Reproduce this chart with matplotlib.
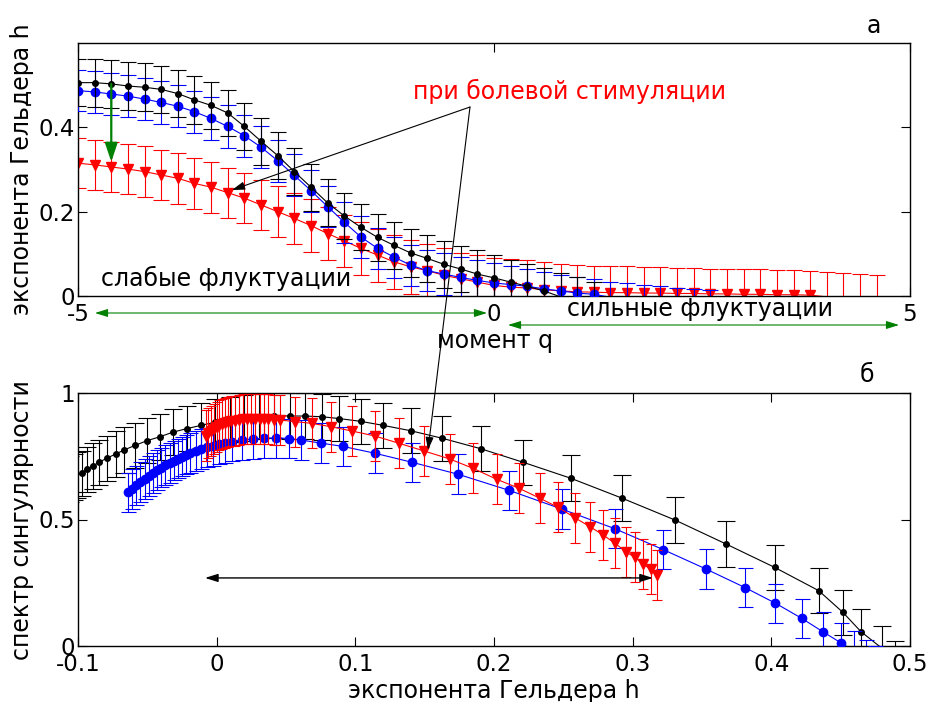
import numpy as np
import matplotlib
matplotlib.use("Agg")
import matplotlib.pyplot as plt
from matplotlib.patches import FancyArrowPatch

plt.rcParams["font.family"] = ["DejaVu Sans"]

W, H = 929, 702

# --- panel a: generalized Hurst exponent h(q) vs moment q ---
q = np.round(np.linspace(-5, 5, 51), 2)
q_black = q[:32]
q_blue = q[:39]
q_red = q[:49]

h_black = [0.506, 0.506, 0.503, 0.498, 0.495, 0.490, 0.480, 0.465, 0.452, 0.434,
           0.402, 0.367, 0.333, 0.295, 0.258, 0.221, 0.190, 0.163, 0.139, 0.120,
           0.102, 0.089, 0.075, 0.064, 0.052, 0.043, 0.033, 0.023, 0.012, -0.002,
           -0.012, -0.022]
err_black = [0.056, 0.057, 0.057, 0.056, 0.057, 0.056, 0.056, 0.056, 0.055, 0.055,
             0.056, 0.056, 0.055, 0.055, 0.056, 0.056, 0.055, 0.055, 0.056, 0.056,
             0.056, 0.055, 0.055, 0.055, 0.057, 0.054, 0.053, 0.054, 0.055, 0.056,
             0.056, 0.056]

h_blue = [0.487, 0.484, 0.479, 0.474, 0.467, 0.459, 0.450, 0.437, 0.421, 0.402,
          0.380, 0.353, 0.321, 0.286, 0.250, 0.212, 0.175, 0.140, 0.113, 0.092,
          0.073, 0.060, 0.052, 0.044, 0.037, 0.031, 0.027, 0.023, 0.017, 0.012,
          0.007, 0.004, -0.003, -0.006, -0.009, -0.012, -0.015, -0.018, -0.021]
err_blue = [0.049, 0.050, 0.050, 0.050, 0.050, 0.050, 0.050, 0.050, 0.050, 0.050,
            0.050, 0.050, 0.050, 0.050, 0.050, 0.049, 0.049, 0.049, 0.049, 0.049,
            0.049, 0.049, 0.049, 0.049, 0.048, 0.047, 0.045, 0.042, 0.040, 0.038,
            0.037, 0.037, 0.036, 0.036, 0.036, 0.035, 0.035, 0.035, 0.035]

h_red = [0.315, 0.311, 0.306, 0.301, 0.295, 0.287, 0.279, 0.267, 0.258, 0.245,
         0.232, 0.216, 0.200, 0.184, 0.167, 0.148, 0.131, 0.113, 0.097, 0.081,
         0.069, 0.060, 0.049, 0.041, 0.033, 0.025, 0.021, 0.019, 0.015, 0.012,
         0.010, 0.009, 0.008, 0.008, 0.007, 0.007, 0.006, 0.006, 0.005, 0.005,
         0.004, 0.004, 0.003, 0.003, 0.002, -0.002, -0.004, -0.006, -0.008]
err_red = [0.060, 0.060, 0.060, 0.060, 0.060, 0.060, 0.060, 0.060, 0.060, 0.059,
           0.060, 0.060, 0.061, 0.061, 0.062, 0.062, 0.062, 0.063, 0.063, 0.064,
           0.064, 0.064, 0.064, 0.060, 0.064, 0.066, 0.066, 0.066, 0.065, 0.064,
           0.063, 0.063, 0.062, 0.062, 0.062, 0.061, 0.061, 0.060, 0.060, 0.060,
           0.059, 0.059, 0.059, 0.058, 0.058, 0.058, 0.058, 0.058, 0.057]

# --- panel б: singularity spectrum f vs Hoelder exponent ---
sb_h = [-0.106, -0.103, -0.1005, -0.0974, -0.0938, -0.0894, -0.0849, -0.0793, -0.0728, -0.0666,
        -0.0589, -0.0500, -0.0409, -0.0317, -0.0217, -0.0113, -0.0010, 0.0095, 0.0200, 0.0305,
        0.0413, 0.0528, 0.0639, 0.0762, 0.0884, 0.1038, 0.1201, 0.1398, 0.1627, 0.1903,
        0.2211, 0.2554, 0.2925, 0.3305, 0.3674, 0.4023, 0.4341, 0.4516, 0.4646, 0.4800,
        0.4895]
sb_f = [0.660, 0.668, 0.675, 0.682, 0.698, 0.711, 0.726, 0.742, 0.759, 0.775,
        0.793, 0.812, 0.827, 0.845, 0.859, 0.872, 0.885, 0.895, 0.902, 0.907,
        0.911, 0.909, 0.909, 0.906, 0.899, 0.888, 0.872, 0.851, 0.821, 0.780,
        0.726, 0.663, 0.584, 0.498, 0.403, 0.311, 0.219, 0.133, 0.057, -0.010,
        -0.069]
sb_err = 0.090

su_h = [-0.064, -0.061, -0.058, -0.055, -0.052, -0.049, -0.046, -0.043, -0.040, -0.037,
        -0.034, -0.031, -0.028, -0.025, -0.022, -0.019, -0.015, -0.011, -0.007, -0.003,
        0.002, 0.006, 0.011, 0.018, 0.026, 0.034, 0.043, 0.052, 0.061, 0.075,
        0.091, 0.114, 0.141, 0.174, 0.211, 0.249, 0.287, 0.322, 0.353, 0.381,
        0.403, 0.422, 0.437, 0.450, 0.4595, 0.468, 0.4746]
su_f = [0.607, 0.621, 0.635, 0.648, 0.660, 0.672, 0.684, 0.695, 0.705, 0.715,
        0.724, 0.733, 0.741, 0.749, 0.756, 0.763, 0.771, 0.778, 0.785, 0.791,
        0.798, 0.802, 0.808, 0.814, 0.818, 0.821, 0.823, 0.820, 0.814, 0.802,
        0.789, 0.762, 0.726, 0.679, 0.615, 0.541, 0.464, 0.381, 0.304, 0.231,
        0.169, 0.109, 0.057, 0.013, -0.018, -0.053, -0.078]
su_err = 0.078

sr_h = [-0.008, -0.006, -0.004, -0.002, 0.000, 0.002, 0.004, 0.006, 0.008, 0.010,
        0.013, 0.016, 0.019, 0.022, 0.025, 0.028, 0.031, 0.034, 0.037, 0.041,
        0.0456, 0.0565, 0.0685, 0.0822, 0.0973, 0.1141, 0.1317, 0.1495, 0.1682, 0.185,
        0.2019, 0.2182, 0.2331, 0.2463, 0.2583, 0.2691, 0.2787, 0.2872, 0.2951, 0.3016,
        0.3076, 0.3129, 0.3172]
sr_f = [0.832, 0.842, 0.851, 0.859, 0.866, 0.872, 0.877, 0.881, 0.885, 0.888,
        0.891, 0.894, 0.896, 0.897, 0.898, 0.899, 0.899, 0.898, 0.897, 0.895,
        0.893, 0.887, 0.880, 0.867, 0.850, 0.830, 0.801, 0.771, 0.739, 0.702,
        0.659, 0.623, 0.584, 0.548, 0.507, 0.472, 0.439, 0.406, 0.373, 0.350,
        0.324, 0.303, 0.281]
sr_err = 0.099


def fpx(x, y):
    return (x / W, 1 - y / H)


def series(ax, x, y, err, color, marker, ms, cap, z, xlim, ylim):
    ax.errorbar(x, y, yerr=err, fmt="none", ecolor=color, elinewidth=0.8,
                capsize=cap, capthick=0.8, zorder=z)
    # markers only for points inside the axes box
    shown = [i for i, (a, b) in enumerate(zip(x, y))
             if xlim[0] <= a <= xlim[1] and ylim[0] <= b <= ylim[1]]
    ax.plot(x, y, color=color, lw=0.8, marker=marker, ms=ms, mfc=color,
            mec=color, markevery=shown, zorder=z + 0.5)


def style(ax, xt, xl, yt, yl):
    ax.set_xticks(xt)
    ax.set_xticklabels(xl)
    ax.set_yticks(yt)
    ax.set_yticklabels(yl)
    ax.tick_params(direction="in", length=6.5, width=0.8, top=True, right=True,
                   labelsize=16.5)
    ax.tick_params(axis="x", pad=5)
    ax.tick_params(axis="y", pad=2)
    for s in ax.spines.values():
        s.set_linewidth(1.0)


fig = plt.figure(figsize=(W / 100, H / 100), dpi=100)
ax1 = fig.add_axes([78 / W, 1 - 296 / H, 832 / W, 253 / H])
ax2 = fig.add_axes([78 / W, 1 - 646 / H, 832 / W, 253 / H])

lim1 = ((-5, 5), (0, 0.6))
series(ax1, q_red, h_red, err_red, "#ff0000", "v", 7.5, 6, 2, *lim1)
series(ax1, q_blue, h_blue, err_blue, "#0000ff", "o", 6, 6, 3, *lim1)
series(ax1, q_black, h_black, err_black, "k", "o", 4, 6, 4, *lim1)
ax1.set_xlim(*lim1[0])
ax1.set_ylim(*lim1[1])
style(ax1, [-5, 0, 5], ["-5", "0", "5"], [0, 0.2, 0.4], ["0", "0.2", "0.4"])

lim2 = ((-0.1, 0.5), (0, 1))
series(ax2, sb_h, sb_f, sb_err, "k", "o", 4, 6.5, 2, *lim2)
series(ax2, su_h, su_f, su_err, "#0000ff", "o", 6, 5.4, 3, *lim2)
series(ax2, sr_h, sr_f, sr_err, "#ff0000", "v", 7.5, 3.6, 4, *lim2)
ax2.set_xlim(*lim2[0])
ax2.set_ylim(*lim2[1])
style(ax2, [-0.1, 0, 0.1, 0.2, 0.3, 0.4, 0.5],
      ["-0.1", "0", "0.1", "0.2", "0.3", "0.4", "0.5"],
      [0, 0.5, 1], ["0", "0.5", "1"])

fs = 17
fig.text(*fpx(22, 169), "экспонента Гельдера h", rotation=90, fontsize=fs,
         ha="center", va="center")
fig.text(*fpx(22, 520), "спектр сингулярности", rotation=90, fontsize=fs,
         ha="center", va="center")
fig.text(*fpx(495, 348), "момент q", fontsize=fs, ha="center", va="baseline")
fig.text(*fpx(494, 698), "экспонента Гельдера h", fontsize=fs, ha="center",
         va="baseline")
fig.text(*fpx(874, 33), "а", fontsize=fs, ha="center", va="baseline")
fig.text(*fpx(867, 382), "б", fontsize=fs, ha="center", va="baseline")
fig.text(*fpx(570, 99), "при болевой стимуляции", color="#ff0000", fontsize=fs,
         ha="center", va="baseline")
fig.text(*fpx(226, 286), "слабые флуктуации", fontsize=fs, ha="center",
         va="baseline")
fig.text(*fpx(700, 316), "сильные флуктуации", fontsize=fs, ha="center",
         va="baseline")

# drop of h for negative q
ax1.annotate("", xy=(-4.6, 0.318), xytext=(-4.6, 0.503),
             arrowprops=dict(arrowstyle="-|>,head_length=0.75,head_width=0.25",
                             mutation_scale=15, lw=1.6, color="#008000",
                             shrinkA=0, shrinkB=0), zorder=6)
# narrowing of the spectrum
ax2.annotate("", xy=(-0.0084, 0.269), xytext=(0.3146, 0.269),
             arrowprops=dict(arrowstyle="<|-|>,head_length=0.7,head_width=0.22",
                             mutation_scale=11, lw=1.0, color="k",
                             shrinkA=0, shrinkB=0), zorder=6)


def fig_arrow(p0, p1, style_, color, lw, scale):
    a = FancyArrowPatch(fpx(*p0), fpx(*p1), transform=fig.transFigure,
                        arrowstyle=style_, mutation_scale=scale, lw=lw,
                        color=color, shrinkA=0, shrinkB=0, zorder=10)
    fig.add_artist(a)


fig_arrow((95, 313), (487, 313), "<|-|>,head_length=0.7,head_width=0.22",
          "#008000", 0.8, 11)
fig_arrow((508, 325), (899, 325), "<|-|>,head_length=0.7,head_width=0.22",
          "#008000", 0.8, 11)
fig_arrow((470, 107), (232, 190), "-|>,head_length=0.7,head_width=0.22",
          "k", 0.8, 11)
fig_arrow((470, 107), (428, 450), "-|>,head_length=0.7,head_width=0.22",
          "k", 0.8, 11)

fig.savefig("out.png", dpi=100, facecolor="white")
